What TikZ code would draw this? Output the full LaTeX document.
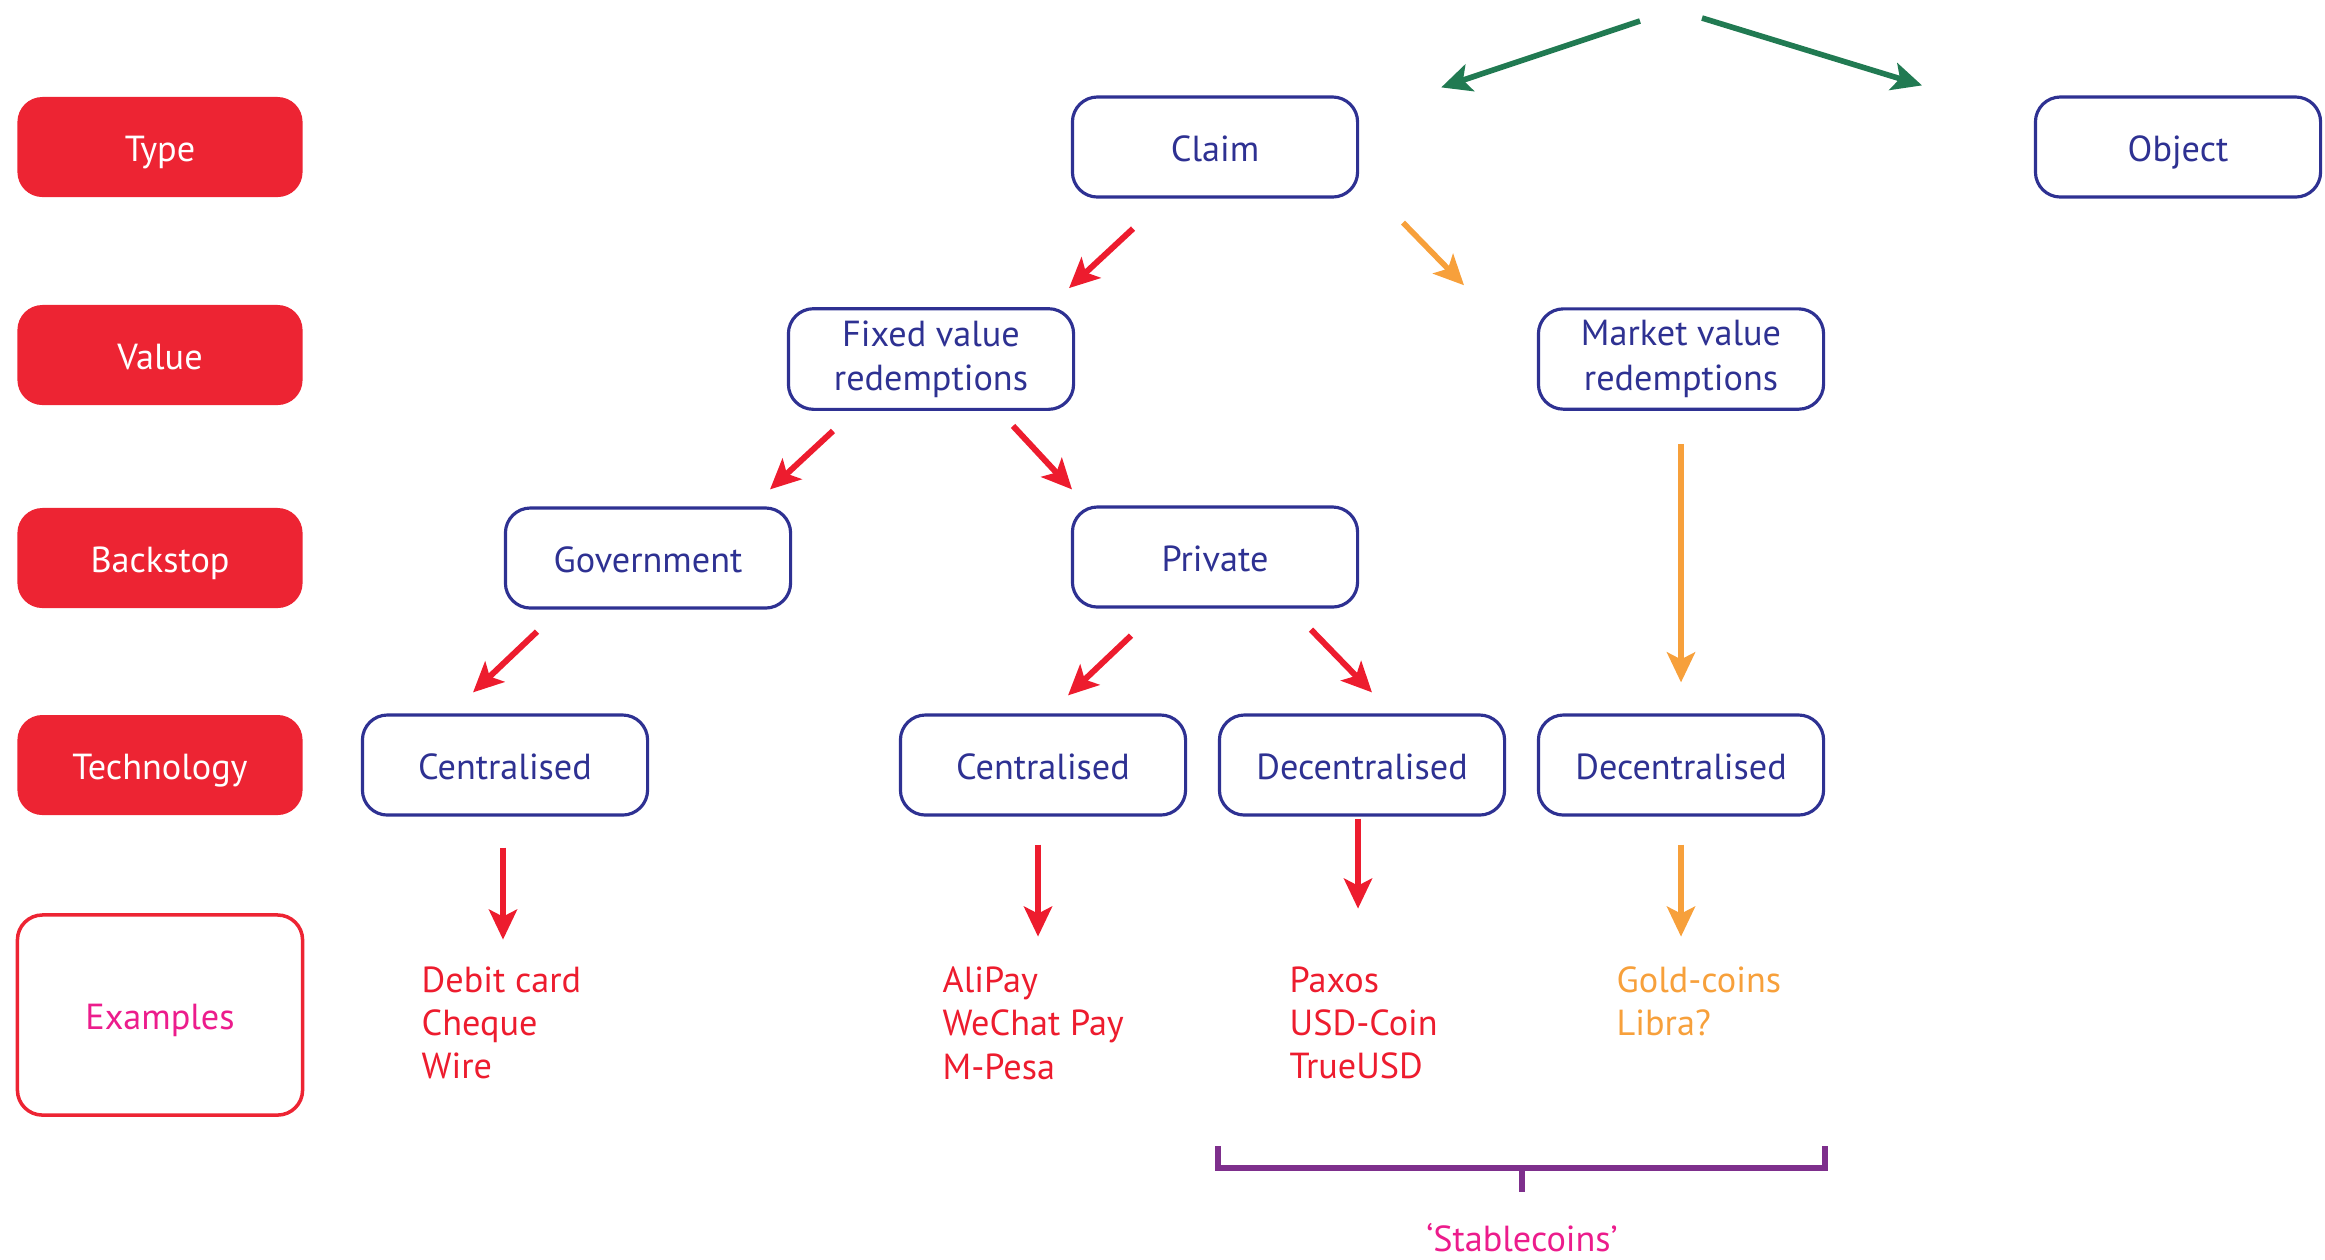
\documentclass[tikz,border=0pt]{standalone}
\usepackage{fontspec}
\setmainfont{PT Sans}
\usetikzlibrary{arrows.meta}

\definecolor{tagred}{HTML}{ED2433}
\definecolor{navy}{HTML}{2E3192}
\definecolor{arrred}{HTML}{ED1C2E}
\definecolor{arrorange}{HTML}{F7A03B}
\definecolor{arrgreen}{HTML}{217A52}
\definecolor{pinktext}{HTML}{EC1C8C}
\definecolor{brkpurple}{HTML}{7E2F8C}

\begin{document}
\begin{tikzpicture}[x=0.01cm,y=-0.01cm,
  every node/.style={font=\fontsize{10.3}{12.6}\selectfont},
  oneline/.style={text height=0.85em, text depth=0pt},
  rowtag/.style={oneline, fill=tagred, rounded corners=0.25cm, minimum width=2.85cm, minimum height=1cm, text=white},
  rowtagopen/.style={oneline, draw=tagred, line width=1pt, rounded corners=0.25cm, minimum width=2.85cm, minimum height=2cm, text=pinktext},
  cat/.style={draw=navy, line width=0.9pt, rounded corners=0.25cm, minimum width=2.85cm, minimum height=1cm, text=navy, align=center},
  catone/.style={cat, oneline},
  extext/.style={anchor=north west, inner sep=0pt, align=left, font=\fontsize{10.3}{12.3}\selectfont},
  tip/.style={-{Stealth[length=0.3cm, width=0.28cm, inset=0.07cm]}},
  redarr/.style={tip, draw=arrred, line width=1.7pt},
  orangearr/.style={tip, draw=arrorange, line width=1.6pt},
  greenarr/.style={tip, draw=arrgreen, line width=1.6pt},
  bracket/.style={draw=brkpurple, line width=1.7pt}]
\useasboundingbox (0,0) rectangle (2325,1259);

% row tags
\node[rowtag] (type) at (160,147) {Type};
\node[rowtag] (value) at (160,355) {Value};
\node[rowtag] (backstop) at (160,558) {Backstop};
\node[rowtag] (tech) at (160,765) {Technology};
\node[rowtagopen] (examples) at (160,1015) {Examples};

% tree
\node[catone] (claim) at (1215,147) {Claim};
\node[catone] (object) at (2178,147) {Object};
\node[cat] (fixed) at (931,359) {Fixed value\\redemptions};
\node[cat] (market) at (1681,359) {Market value\\redemptions};
\node[catone] (gov) at (648,558) {Government};
\node[catone] (private) at (1215,557) {Private};
\node[catone] (centA) at (505,765) {Centralised};
\node[catone] (centB) at (1043,765) {Centralised};
\node[catone] (decA) at (1362,765) {Decentralised};
\node[catone] (decB) at (1681,765) {Decentralised};

\node[extext, text=arrred] (exA) at (421,966) {Debit card\\Cheque\\Wire};
\node[extext, text=arrred] (exB) at (942,966) {AliPay\\WeChat Pay\\M-Pesa};
\node[extext, text=arrred] (exC) at (1289,966) {Paxos\\USD-Coin\\TrueUSD};
\node[extext, text=arrorange] (exD) at (1616,966) {Gold-coins\\Libra?};

% arrows
\coordinate (src) at (1650,19);
\draw[greenarr] ([shift={(-10,2)}]src) -- ([shift={(82,-8)}]claim.north east);
\draw[greenarr] ([shift={(52,-1)}]src) -- ([shift={(-256,-10)}]object.north);

\draw[redarr] ([shift={(-82,30)}]claim.south) -- ([shift={(138,-19)}]fixed.north);
\draw[orangearr] ([shift={(188,24)}]claim.south) -- ([shift={(-217,-22)}]market.north);
\draw[redarr] ([shift={(-98,20)}]fixed.south) -- ([shift={(122,-17)}]gov.north);
\draw[redarr] ([shift={(82,15)}]fixed.south) -- ([shift={(-143,-16)}]private.north);
\draw[orangearr] ([shift={(0,33)}]market.south) -- ([shift={(0,-31)}]decB.north);
\draw[redarr] ([shift={(-111,22)}]gov.south) -- ([shift={(-32,-21)}]centA.north);
\draw[redarr] ([shift={(-84,27)}]private.south) -- ([shift={(25,-18)}]centB.north);
\draw[redarr] ([shift={(96,21)}]private.south) -- ([shift={(10,-21)}]decA.north);

\draw[redarr] ([shift={(-2,31)}]centA.south) -- ([shift={(-2,123)}]centA.south);
\draw[redarr] ([shift={(-5,28)}]centB.south) -- ([shift={(-5,120)}]centB.south);
\draw[redarr] ([shift={(-4,2)}]decA.south) -- ([shift={(-4,92)}]decA.south);
\draw[orangearr] ([shift={(0,28)}]decB.south) -- ([shift={(0,120)}]decB.south);

% stablecoins bracket
\draw[bracket] (decA.south west |- 0,1146) -- (decA.south west |- 0,1168) -- (decB.south east |- 0,1168) -- (decB.south east |- 0,1146);
\coordinate (brk) at (1522,1168);
\node[text=pinktext] (stable) at (1522,1238) {‘Stablecoins’};
\draw[bracket] (brk) -- ([shift={(0,24)}]brk);
\end{tikzpicture}
\end{document}
